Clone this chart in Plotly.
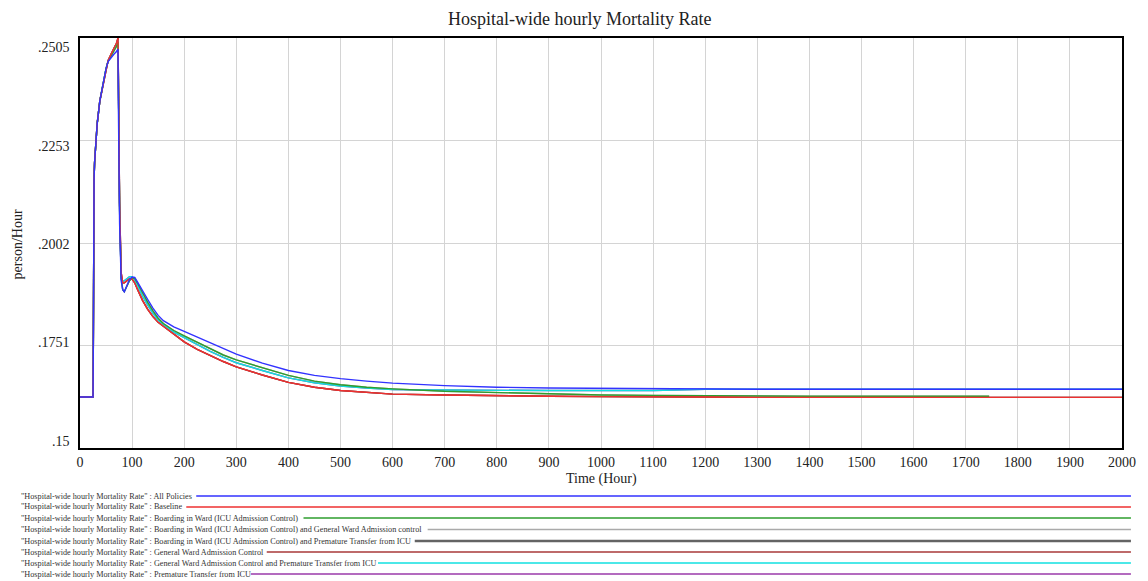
import plotly.graph_objects as go

# ---------------- data ----------------
hours = [0, 25, 25.5, 26, 27, 28, 30, 33, 38, 45,
         50, 54, 60, 65, 70, 73, 74, 76, 79, 82,
         85, 90, 95, 100, 105, 110, 120, 130, 140, 150,
         160, 180, 200, 225, 250, 275, 300, 350, 400, 450,
         500, 550, 600, 700, 800, 900, 1000, 1100, 1200, 1300,
         1400, 1500, 1600, 1700, 1745, 1800, 1900, 2000]

all_policies = [0.1625, 0.1625, 0.1728, 0.2010, 0.2160, 0.2200, 0.2245, 0.2295, 0.2350, 0.2398,
                0.2430, 0.2447, 0.2458, 0.2465, 0.2472, 0.2478, 0.2300, 0.2050, 0.1910, 0.1888,
                0.1883, 0.1900, 0.1913, 0.1919, 0.1918, 0.1908, 0.1885, 0.1864, 0.1843, 0.1825,
                0.1812, 0.1797, 0.1786, 0.1772, 0.1759, 0.1745, 0.1730, 0.1708, 0.1690, 0.1678,
                0.1670, 0.1664, 0.1659, 0.1653, 0.1649, 0.1647, 0.1646, 0.1645, 0.1644, 0.1644,
                0.1644, 0.1644, 0.1644, 0.1644, 0.1644, 0.1644, 0.1644, 0.1644]

baseline = [0.1625, 0.1625, 0.1728, 0.2010, 0.2160, 0.2200, 0.2245, 0.2295, 0.2350, 0.2398,
            0.2430, 0.2450, 0.2466, 0.2478, 0.2492, 0.2505, 0.2380, 0.2100, 0.1930, 0.1905,
            0.1905, 0.1910, 0.1915, 0.1914, 0.1905, 0.1890, 0.1862, 0.1840, 0.1822, 0.1808,
            0.1798, 0.1778, 0.1760, 0.1742, 0.1726, 0.1712, 0.1699, 0.1679, 0.1661, 0.1649,
            0.1641, 0.1636, 0.1632, 0.1630, 0.1628, 0.1627, 0.1626, 0.1626, 0.1625, 0.1624,
            0.1624, 0.1624, 0.1624, 0.1624, 0.1624, 0.1624, 0.1624, 0.1624]

boarding_icu = [0.1625, 0.1625, 0.1728, 0.2010, 0.2160, 0.2200, 0.2245, 0.2295, 0.2350, 0.2398,
                0.2430, 0.2448, 0.2462, 0.2472, 0.2484, 0.2495, 0.2350, 0.2080, 0.1920, 0.1888,
                0.1883, 0.1895, 0.1910, 0.1916, 0.1916, 0.1905, 0.1880, 0.1857, 0.1836, 0.1818,
                0.1805, 0.1788, 0.1775, 0.1760, 0.1743, 0.1728, 0.1716, 0.1697, 0.1678, 0.1664,
                0.1655, 0.1649, 0.1645, 0.1639, 0.1636, 0.1632, 0.1630, 0.1629, 0.1628, 0.1627,
                0.1627, 0.1627, 0.1627, 0.1627, 0.1627, None, None, None]

gw_control_premature = [0.1625, 0.1625, 0.1728, 0.2010, 0.2160, 0.2200, 0.2245, 0.2295, 0.2350, 0.2398,
                        0.2430, 0.2449, 0.2464, 0.2476, 0.2488, 0.2500, 0.2360, 0.2090, 0.1915, 0.1908,
                        0.1910, 0.1915, 0.1920, 0.1920, 0.1912, 0.1900, 0.1872, 0.1850, 0.1830, 0.1814,
                        0.1802, 0.1784, 0.1770, 0.1753, 0.1737, 0.1722, 0.1709, 0.1690, 0.1672, 0.1660,
                        0.1652, 0.1647, 0.1643, 0.1642, 0.1641, 0.1641, 0.1641, 0.1641, 0.1644, 0.1644,
                        0.1644, 0.1644, 0.1644, 0.1644, 0.1644, 0.1644, 0.1644, 0.1644]

# series that are fully hidden under the visible ones in the reference
boarding_icu_gw = boarding_icu
boarding_icu_premature = baseline
gw_control = baseline
premature_transfer = gw_control_premature

prefix = '"Hospital-wide hourly Mortality Rate" : '
series_names = ["All Policies",
                "Baseline",
                "Boarding in Ward (ICU Admission Control)",
                "Boarding in Ward (ICU Admission Control) and General Ward Admission control",
                "Boarding in Ward (ICU Admission Control) and Premature Transfer from ICU",
                "General Ward Admission Control",
                "General Ward Admission Control and Premature Transfer from ICU",
                "Premature Transfer from ICU"]
series_values = [all_policies, baseline, boarding_icu, boarding_icu_gw,
                 boarding_icu_premature, gw_control, gw_control_premature, premature_transfer]
series_colors = ["#3232ff", "#ee3030", "#2e9e2e", "#aaaaaa",
                 "#646464", "#a83838", "#10e0e0", "#9a3aaa"]
legend_widths = [1.5, 1.5, 1.5, 1.5, 2.5, 1.5, 1.5, 1.5]

y_tick_vals = [0.15, 0.175125, 0.20025, 0.225375, 0.2505]
y_tick_text = [".15", ".1751", ".2002", ".2253", ".2505"]

# ---------------- geometry helpers (pixel -> paper) ----------------
W, H = 1148, 581
L, R, T, B = 80, 1129, 38, 448


def px(x):
    return (x - L) / (R - L)


def py(y):
    return (B - y) / (B - T)


FONT = "Liberation Serif"

fig = go.Figure()

draw_order = [3, 4, 5, 7, 6, 2, 1, 0]
for i in draw_order:
    fig.add_trace(go.Scatter(
        x=hours, y=series_values[i], mode="lines",
        name=series_names[i],
        line=dict(color=series_colors[i], width=1.4),
        connectgaps=False, showlegend=False,
    ))

annotations = []
shapes = []

# title
annotations.append(dict(text="Hospital-wide hourly Mortality Rate", x=px(583), y=py(19),
                        xref="paper", yref="paper", showarrow=False,
                        font=dict(family=FONT, size=18, color="#222"),
                        xanchor="center", yanchor="middle"))
# axis titles
annotations.append(dict(text="Time (Hour)", x=px(605), y=py(479),
                        xref="paper", yref="paper", showarrow=False,
                        font=dict(family=FONT, size=14, color="#222"),
                        xanchor="center", yanchor="middle"))
annotations.append(dict(text="person/Hour", x=px(17), y=py(244), textangle=-90,
                        xref="paper", yref="paper", showarrow=False,
                        font=dict(family=FONT, size=14, color="#222"),
                        xanchor="center", yanchor="middle"))

# y tick labels (spread like the Vensim output)
label_rows = [441, 342, 244, 146, 47]
for txt, yy in zip(y_tick_text, label_rows):
    annotations.append(dict(text=txt, x=px(72), y=py(yy), xref="paper", yref="paper",
                            showarrow=False, xanchor="right", yanchor="middle",
                            font=dict(family=FONT, size=14, color="#222")))

# custom legend below the chart
legend_rows = [496, 507, 518, 529.5, 541, 552, 563, 574]
legend_line_start = [197, 187, 305, 430, 417, 268, 380, 252]
for i in range(len(series_names)):
    yy = legend_rows[i]
    annotations.append(dict(text=prefix + series_names[i], x=px(19), y=py(yy),
                            xref="paper", yref="paper", showarrow=False,
                            xanchor="left", yanchor="middle",
                            font=dict(family=FONT, size=8.2, color="#333")))
    shapes.append(dict(type="line", xref="paper", yref="paper",
                       x0=px(legend_line_start[i]), x1=px(1138), y0=py(yy), y1=py(yy),
                       line=dict(color=series_colors[i], width=legend_widths[i])))

fig.update_layout(
    width=W, height=H, autosize=False,
    margin=dict(l=L, r=W - R, t=T, b=H - B, pad=0),
    paper_bgcolor="white", plot_bgcolor="white",
    annotations=annotations, shapes=shapes,
    showlegend=False,
    xaxis=dict(range=[0, 2000], tick0=0, dtick=100, showgrid=True,
               gridcolor="#d4d4d4", gridwidth=1, zeroline=False,
               showline=True, mirror=True, linecolor="black", linewidth=2,
               ticks="", tickfont=dict(family=FONT, size=14, color="#222")),
    yaxis=dict(range=[0.15, 0.2505], tickvals=y_tick_vals, ticktext=y_tick_text,
               showticklabels=False, showgrid=True,
               gridcolor="#d4d4d4", gridwidth=1, zeroline=False,
               showline=True, mirror=True, linecolor="black", linewidth=2, ticks=""),
)

fig.write_html(
    "out.html",
    config={"displayModeBar": False, "responsive": False},
    default_width="1148px", default_height="581px",
    post_script="document.body.style.margin='0';document.body.style.overflow='hidden';"
                "document.documentElement.style.overflow='hidden';",
)
